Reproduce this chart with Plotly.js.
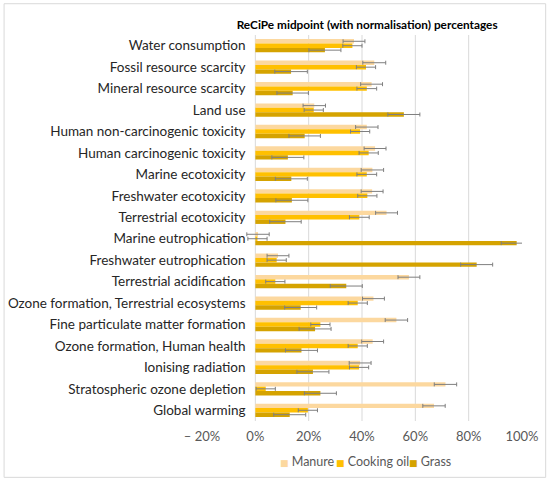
<!DOCTYPE html>
<html>
<head>
<meta charset="utf-8">
<script src="https://cdn.plot.ly/plotly-3.0.1.min.js"></script>
<style>html,body{margin:0;padding:0;background:#fff;}#chart{width:550px;height:481px;}</style>
</head>
<body>
<div id="chart"></div>
<script>
const categories = [
  "Water consumption", "Fossil resource scarcity", "Mineral resource scarcity", "Land use",
  "Human non-carcinogenic toxicity", "Human carcinogenic toxicity", "Marine ecotoxicity",
  "Freshwater ecotoxicity", "Terrestrial ecotoxicity", "Marine eutrophication",
  "Freshwater eutrophication", "Terrestrial acidification", "Ozone formation, Terrestrial ecosystems",
  "Fine particulate matter formation", "Ozone formation, Human health", "Ionising radiation",
  "Stratospheric ozone depletion", "Global warming"
];
const manure     = [37.0, 44.6, 43.6, 22.1, 41.8, 44.9, 43.9, 43.8, 49.2, 1.0, 8.5, 57.6, 44.3, 52.9, 44.0, 39.3, 71.3, 67.0];
const cookingOil = [36.4, 41.5, 41.8, 21.9, 39.3, 42.5, 41.8, 42.0, 39.0, 0.8, 8.0, 7.5, 38.4, 24.4, 38.4, 38.9, 3.9, 19.7];
const grass      = [26.1, 13.4, 14.0, 55.7, 18.5, 12.2, 13.5, 13.7, 11.3, 98.0, 83.0, 34.1, 17.0, 22.4, 17.3, 21.6, 24.4, 12.9];
const manureErr     = [4.1, 4.3, 4.1, 4.2, 4.2, 4.1, 4.2, 4.1, 4.1, 4.2, 4.1, 4.1, 4.1, 4.2, 4.1, 4.1, 4.2, 4.2];
const cookingOilErr = [3.6, 3.6, 3.7, 3.6, 3.6, 3.6, 3.7, 3.6, 3.7, 3.6, 3.6, 3.6, 3.6, 3.6, 3.6, 3.6, 3.6, 3.6];
const grassErr      = [6.0, 6.1, 5.9, 6.0, 5.9, 6.0, 6.0, 6.0, 5.9, 5.8, 6.0, 6.0, 6.0, 6.0, 6.0, 6.0, 6.0, 6.0];
const tickVals  = [-20, 0, 20, 40, 60, 80, 100];
const tickText  = ["\u2013 20%", "0%", "20%", "40%", "60%", "80%", "100%"];
const gridVals  = [0, 20, 40, 60, 80];
const seriesNames = ["Manure", "Cooking oil", "Grass"];
const colors = ["#FCD89F", "#FFC000", "#D5A300"];

const series = [manure, cookingOil, grass];
const errs = [manureErr, cookingOilErr, grassErr];
const traces = series.map((vals, i) => ({
  type: 'bar',
  orientation: 'h',
  name: seriesNames[i],
  y: categories,
  x: vals,
  marker: {color: colors[i], line: {width: 0}},
  error_x: {type: 'data', array: errs[i], visible: true, color: '#7F7F7F', thickness: 1, width: 2},
  hoverinfo: 'x+y',
  showlegend: false
}));

const shapes = gridVals.map(v => ({
  type: 'line', xref: 'x', yref: 'paper', x0: v, x1: v, y0: 0, y1: 1,
  line: {color: '#D9D9D9', width: 1}, layer: 'below'
}));
shapes.push({
  type: 'rect', xref: 'paper', yref: 'paper',
  x0: -0.6185, x1: 1.0740, y0: -0.1460, y1: 1.0810,
  line: {color: '#D9D9D9', width: 1}, fillcolor: 'rgba(0,0,0,0)', layer: 'below'
});

// legend entries (square key + name), laid out in one row under the axis
const legendX = [0.2364, 0.4124, 0.6420];
const annotations = seriesNames.map((name, i) => ({
  xref: 'paper', yref: 'paper', x: legendX[i], y: -0.1046,
  xanchor: 'left', yanchor: 'middle', showarrow: false,
  text: '<span style="font-family:DejaVu Sans;font-size:9px;color:' + colors[i] + '">\u25A0</span> ' + name,
  font: {family: 'Lato, "Open Sans", sans-serif', size: 12.5, color: '#595959'}
}));

const layout = {
  width: 550, height: 481,
  margin: {l: 202, r: 28, t: 35, b: 60, autoexpand: false},
  paper_bgcolor: '#ffffff', plot_bgcolor: '#ffffff',
  font: {family: 'Lato, "Open Sans", sans-serif', color: '#595959'},
  title: {
    text: '<b>ReCiPe midpoint (with normalisation) percentages</b>',
    font: {family: 'Lato, "Open Sans", sans-serif', size: 11.8, color: '#000000'},
    xref: 'paper', x: 0.516, xanchor: 'center',
    yref: 'container', y: 0.949, yanchor: 'middle'
  },
  barmode: 'group', bargap: 0.38, bargroupgap: 0,
  xaxis: {
    range: [-20, 100], tickvals: tickVals, ticktext: tickText,
    showgrid: false, zeroline: false, showline: false, ticks: '',
    ticklabelstandoff: 6,
    tickfont: {size: 13, color: '#595959'}, fixedrange: true
  },
  yaxis: {
    autorange: 'reversed', anchor: 'free', position: 0.136,
    showgrid: false, zeroline: false, showline: false, ticks: '',
    tickfont: {size: 13.5, color: '#262626'}, fixedrange: true
  },
  annotations: annotations,
  shapes: shapes,
  showlegend: false
};

Plotly.newPlot('chart', traces, layout, {displayModeBar: false, staticPlot: true});
</script>
</body>
</html>
